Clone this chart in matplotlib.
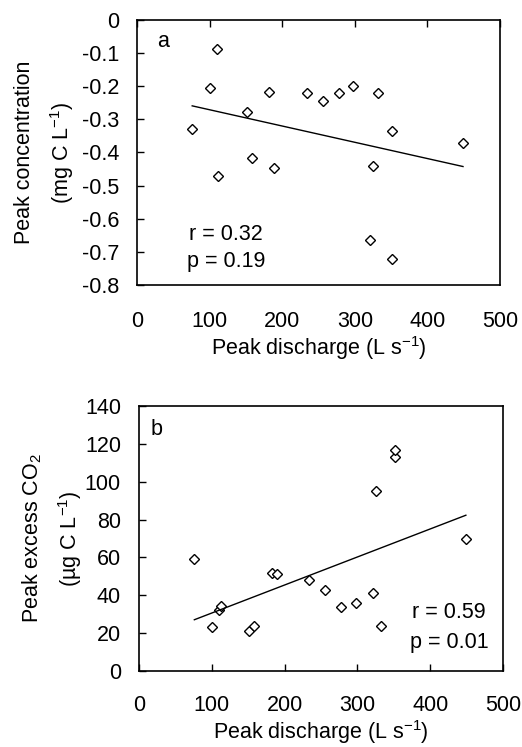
import numpy as np
import matplotlib
matplotlib.use('Agg')
import matplotlib.pyplot as plt

plt.rcParams['font.family'] = ['Liberation Sans', 'DejaVu Sans']
plt.rcParams['mathtext.fontset'] = 'custom'
plt.rcParams['mathtext.rm'] = 'Liberation Sans'
plt.rcParams['mathtext.default'] = 'regular'
plt.rcParams['axes.unicode_minus'] = False

# пиковый расход, л/с (общий для обеих панелей)
discharge = [76, 100, 110, 112, 151, 158, 182, 189, 234, 256,
             278, 298, 321, 325, 332, 351, 351, 449]
# панель a: пиковая концентрация, мг C/л
peak_conc = [-0.33, -0.204, -0.088, -0.47, -0.279, -0.418, -0.217, -0.446, -0.222, -0.245,
             -0.222, -0.198, -0.665, -0.442, -0.222, -0.334, -0.721, -0.371]
# панель b: пиковый избыток CO2, мкг C/л
peak_co2 = [59, 23, 32, 34.6, 21, 24, 52, 51, 48, 43,
            34, 36, 41, 95, 24, 113, 117, 70]

x_ticks = [0, 100, 200, 300, 400, 500]
conc_ticks = [0, -0.1, -0.2, -0.3, -0.4, -0.5, -0.6, -0.7, -0.8]
co2_ticks = [0, 20, 40, 60, 80, 100, 120, 140]

stats_a = ['r = 0.32', 'p = 0.19']
stats_b = ['r = 0.59', 'p = 0.01']

fs = 15.5
fig = plt.figure(figsize=(5.22, 7.47), dpi=100)
ax1 = fig.add_axes([0.2625, 0.6185, 0.6954, 0.3548])
ax2 = fig.add_axes([0.2663, 0.1017, 0.6973, 0.3548])


def draw_panel(ax, x, y, xlab_y):
    ax.plot(x, y, linestyle='none', marker='D', markersize=4.6,
            markerfacecolor='white', markeredgecolor='black', markeredgewidth=1.0)
    k, b = np.polyfit(x, y, 1)
    xs = np.array([min(x), max(x)])
    ax.plot(xs, k * xs + b, color='black', linewidth=1.0)
    for s in ax.spines.values():
        s.set_linewidth(1.2)
    ax.set_xlim(0, 500)
    ax.set_xticks(x_ticks)
    ax.tick_params(axis='both', direction='in', length=5, width=1.0, labelsize=fs)
    ax.tick_params(axis='y', pad=13)
    ax.text(0.5, xlab_y, 'Peak discharge (L s$^{-1}$)', transform=ax.transAxes,
            ha='center', va='baseline', fontsize=fs)


# панель a
draw_panel(ax1, discharge, peak_conc, -0.264)
ax1.set_ylim(-0.8, 0)
ax1.set_yticks(conc_ticks)
ax1.set_yticklabels(['{:g}'.format(t) for t in conc_ticks])
ax1.tick_params(axis='x', bottom=False, top=True, labelbottom=True, pad=19)
ax1.text(-0.309, 0.5, 'Peak concentration', transform=ax1.transAxes,
         rotation=90, ha='center', va='center', fontsize=fs)
ax1.text(-0.207, 0.5, '(mg C L$^{-1}$)', transform=ax1.transAxes,
         rotation=90, ha='center', va='center', fontsize=fs)
ax1.text(0.072, 0.917, 'a', transform=ax1.transAxes, ha='center', va='center', fontsize=fs)
ax1.text(0.245, 0.192, stats_a[0], transform=ax1.transAxes, ha='center', va='center', fontsize=fs)
ax1.text(0.245, 0.09, stats_a[1], transform=ax1.transAxes, ha='center', va='center', fontsize=fs)

# панель b
draw_panel(ax2, discharge, peak_co2, -0.257)
ax2.set_ylim(0, 140)
ax2.set_yticks(co2_ticks)
ax2.tick_params(axis='x', pad=17)
ax2.text(-0.294, 0.5, 'Peak excess CO$_2$', transform=ax2.transAxes,
         rotation=90, ha='center', va='center', fontsize=fs)
ax2.text(-0.19, 0.5, '(µg C L$^{-1}$)', transform=ax2.transAxes,
         rotation=90, ha='center', va='center', fontsize=fs)
ax2.text(0.047, 0.913, 'b', transform=ax2.transAxes, ha='center', va='center', fontsize=fs)
ax2.text(0.852, 0.219, stats_b[0], transform=ax2.transAxes, ha='center', va='center', fontsize=fs)
ax2.text(0.852, 0.109, stats_b[1], transform=ax2.transAxes, ha='center', va='center', fontsize=fs)

fig.savefig('out.png', dpi=100)
